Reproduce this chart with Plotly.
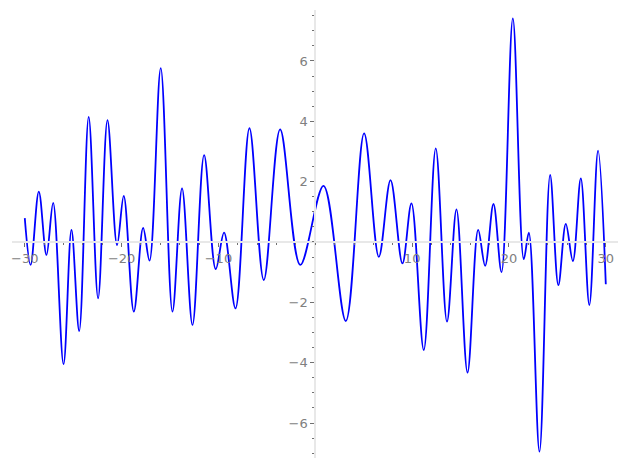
import plotly.graph_objects as go

# Curve: local extrema (x, y) in data units
x_pts = [-30, -29.4, -28.55, -27.76, -27.07, -26.0, -25.18, -24.38, -23.4, -22.43,
         -21.46, -20.47, -19.78, -18.74, -17.78, -17.12, -15.96, -14.75, -13.76, -12.68,
         -11.48, -10.28, -9.42, -8.24, -6.80, -5.32, -3.63, -1.55, 0.85, 3.15,
         5.04, 6.56, 7.77, 9.0, 9.93, 11.2, 12.44, 13.6, 14.58, 15.72,
         16.82, 17.54, 18.4, 19.23, 20.4, 21.53, 22.05, 23.15, 24.25, 25.1,
         25.87, 26.6, 27.42, 28.3, 29.2, 30]
y_pts = [0.79, -0.76, 1.67, -0.43, 1.30, -4.05, 0.40, -2.95, 4.15, -1.87,
         4.04, -0.10, 1.53, -2.31, 0.47, -0.62, 5.76, -2.31, 1.78, -2.75,
         2.88, -0.90, 0.31, -2.20, 3.77, -1.26, 3.73, -0.76, 1.86, -2.62,
         3.6, -0.49, 2.05, -0.71, 1.28, -3.58, 3.1, -2.64, 1.08, -4.33,
         0.40, -0.79, 1.26, -1.0, 7.41, -0.57, 0.31, -6.95, 2.22, -1.43,
         0.6, -0.63, 2.11, -2.09, 3.03, -1.40]

x_ticks = [-30, -20, -10, 10, 20, 30]
y_ticks = [-6, -4, -2, 2, 4, 6]

x_range = [-31.32, 31.26]
y_range = [-7.16, 7.69]

fig = go.Figure()
fig.add_trace(go.Scatter(x=x_pts, y=y_pts, mode="lines",
                         line=dict(color="#0000ff", width=1.8, shape="spline", smoothing=1.0),
                         hoverinfo="skip"))

tick_font = dict(family="DejaVu Sans", size=13, color="#808080")
x_pos = (0 - y_range[0]) / (y_range[1] - y_range[0])
y_pos = (0 - x_range[0]) / (x_range[1] - x_range[0])

fig.update_layout(
    width=627, height=470,
    margin=dict(l=4, r=17, t=2, b=20, autoexpand=False),
    paper_bgcolor="white", plot_bgcolor="white",
    showlegend=False,
    xaxis=dict(range=x_range, anchor="free", position=x_pos, automargin=False,
               tickmode="array", tickvals=x_ticks, ticktext=[str(v).replace("-", "−") for v in x_ticks],
               ticks="outside", ticklen=4, tickwidth=1, tickcolor="#707070",
               minor=dict(dtick=2, ticks="outside", ticklen=2, tickcolor="#707070", showgrid=False),
               showline=True, linecolor="#e8e8e8", linewidth=2,
               showgrid=False, zeroline=False, tickfont=tick_font),
    yaxis=dict(range=y_range, anchor="free", position=y_pos, automargin=False,
               tickmode="array", tickvals=y_ticks, ticktext=[str(v).replace("-", "−") for v in y_ticks],
               ticks="outside", ticklen=4, tickwidth=1, tickcolor="#707070",
               minor=dict(dtick=0.5, ticks="outside", ticklen=2, tickcolor="#707070", showgrid=False),
               showline=True, linecolor="#e8e8e8", linewidth=2,
               showgrid=False, zeroline=False, tickfont=tick_font),
)

fig.write_html("out.html")
